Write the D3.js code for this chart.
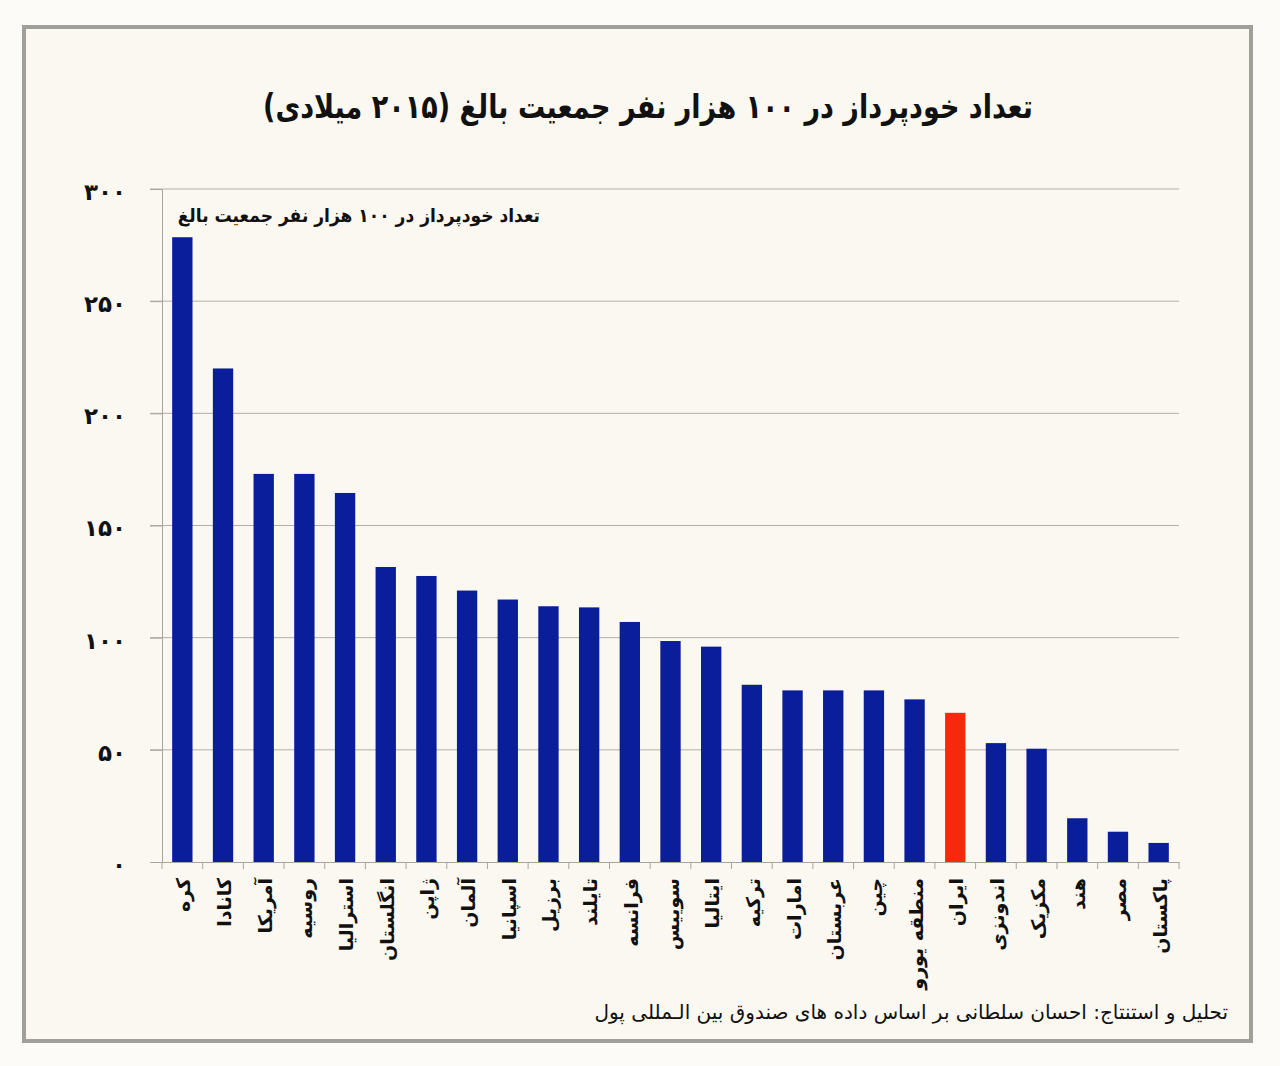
<!DOCTYPE html>
<html>
<head>
<meta charset="utf-8">
<script src="https://cdn.jsdelivr.net/npm/d3@7"></script>
<style>
  html, body { margin: 0; padding: 0; background: #fdfbf7; }
  svg { display: block; }
</style>
</head>
<body>
<div id="chart"></div>
<script>
// داده ها
const countries = ["کره", "کانادا", "آمریکا", "روسیه", "استرالیا", "انگلستان", "ژاپن", "آلمان",
  "اسپانیا", "برزیل", "تایلند", "فرانسه", "سوییس", "ایتالیا", "ترکیه", "امارات", "عربستان",
  "چین", "منطقه یورو", "ایران", "اندونزی", "مکزیک", "هند", "مصر", "پاکستان"];
const atms = [278.5, 220, 173, 173, 164.5, 131.5, 127.5, 121, 117, 114, 113.5, 107, 98.5, 96,
  79, 76.5, 76.5, 76.5, 72.5, 66.5, 53, 50.5, 19.5, 13.5, 8.5];
const yTicks = [0, 50, 100, 150, 200, 250, 300];
const highlight = "ایران";

const title = "تعداد خودپرداز در ۱۰۰ هزار نفر جمعیت بالغ (۲۰۱۵ میلادی)";
const seriesLabel = "تعداد خودپرداز در ۱۰۰ هزار نفر جمعیت بالغ";
const footer = "تحلیل و استنتاج: احسان سلطانی بر اساس داده های صندوق بین الـمللی پول";

const W = 1280, H = 1066;
const margin = { left: 162, right: 101, top: 189, bottom: 204 };
const fontFa = "'DejaVu Sans', 'Noto Sans', sans-serif";

const toFa = n => String(n).replace(/\d/g, d => "۰۱۲۳۴۵۶۷۸۹"[d]);

const svg = d3.select("#chart").append("svg")
  .attr("width", W)
  .attr("height", H);

svg.append("rect")
  .attr("width", W).attr("height", H)
  .attr("fill", "#fdfbf7");

// قاب
svg.append("rect")
  .attr("x", 24).attr("y", 27)
  .attr("width", 1227).attr("height", 1014)
  .attr("fill", "#fbf8f1")
  .attr("stroke", "#a09f9a")
  .attr("stroke-width", 4);

svg.append("text")
  .attr("transform", "translate(648,118) scale(0.82,1)")
  .attr("text-anchor", "middle")
  .attr("font-family", fontFa)
  .attr("font-weight", "bold")
  .attr("font-size", 33)
  .attr("fill", "#111")
  .attr("direction", "rtl")
  .text(title);

const x = d3.scaleBand()
  .domain(countries)
  .range([margin.left, W - margin.right])
  .paddingInner(0.5)
  .paddingOuter(0.25);

const y = d3.scaleLinear()
  .domain([0, 300])
  .range([H - margin.bottom, margin.top]);

const g = svg.append("g");

// خطوط شبکه
g.append("g")
  .selectAll("line")
  .data(yTicks.filter(d => d > 0))
  .join("line")
  .attr("x1", margin.left - 12)
  .attr("x2", W - margin.right)
  .attr("y1", d => y(d))
  .attr("y2", d => y(d))
  .attr("stroke", "#b3afa8")
  .attr("stroke-width", 1);

// میله ها
g.append("g")
  .selectAll("rect")
  .data(countries)
  .join("rect")
  .attr("x", d => x(d))
  .attr("width", x.bandwidth())
  .attr("y", (d, i) => y(atms[i]))
  .attr("height", (d, i) => y(0) - y(atms[i]))
  .attr("fill", d => d === highlight ? "#f5290c" : "#0a1d9a");

// محور عمودی
const yAxis = d3.axisLeft(y)
  .tickValues(yTicks)
  .tickSize(12)
  .tickFormat(d => toFa(d));

g.append("g")
  .attr("transform", `translate(${margin.left},0)`)
  .call(yAxis)
  .call(s => s.select(".domain").attr("stroke", "#a8a49d"))
  .call(s => s.selectAll(".tick line").attr("stroke", "#a8a49d"))
  .call(s => s.selectAll(".tick text")
    .attr("x", -36)
    .attr("dy", "0.45em")
    .attr("font-family", fontFa)
    .attr("font-weight", "bold")
    .attr("font-size", 23)
    .attr("fill", "#111"));

// محور افقی
const xAxis = d3.axisBottom(x).tickSize(0).tickFormat("");
const xg = g.append("g")
  .attr("transform", `translate(0,${y(0)})`)
  .call(xAxis);
xg.select(".domain").attr("stroke", "#a8a49d");

const step = x.step();
g.append("g")
  .selectAll("line")
  .data(d3.range(countries.length + 1))
  .join("line")
  .attr("x1", i => margin.left + i * step)
  .attr("x2", i => margin.left + i * step)
  .attr("y1", y(0))
  .attr("y2", y(0) + 7)
  .attr("stroke", "#a8a49d");

g.append("g")
  .selectAll("text")
  .data(countries)
  .join("text")
  .attr("transform", d => `translate(${x(d) + x.bandwidth() / 2 + 8},${y(0) + 16}) rotate(-90)`)
  .attr("direction", "rtl")
  .attr("text-anchor", "start")
  .attr("font-family", fontFa)
  .attr("font-weight", "bold")
  .attr("font-size", 19)
  .attr("fill", "#111")
  .text(d => d);

// عنوان سری
svg.append("text")
  .attr("transform", "translate(540,222) scale(0.9,1)")
  .attr("direction", "rtl")
  .attr("text-anchor", "start")
  .attr("font-family", fontFa)
  .attr("font-weight", "bold")
  .attr("font-size", 19)
  .attr("fill", "#111")
  .text(seriesLabel);

svg.append("text")
  .attr("x", 1228).attr("y", 1019)
  .attr("direction", "rtl")
  .attr("text-anchor", "start")
  .attr("font-family", fontFa)
  .attr("font-size", 20)
  .attr("fill", "#111")
  .text(footer);
</script>
</body>
</html>
